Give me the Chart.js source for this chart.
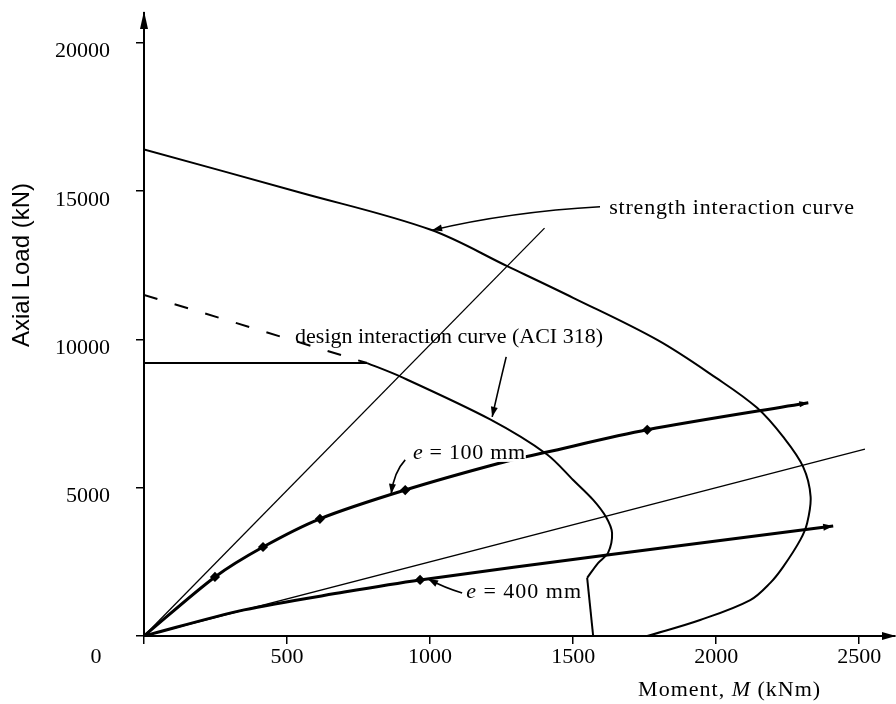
<!DOCTYPE html>
<html>
<head>
<meta charset="utf-8">
<title>Axial load - moment interaction</title>
<script src="https://cdn.jsdelivr.net/npm/chart.js@4.4.1/dist/chart.umd.min.js"></script>
<style>
  html, body { margin: 0; padding: 0; background: #fff; }
</style>
</head>
<body>
<canvas id="chart" width="896" height="704"></canvas>
<script>
// axis ticks
const xTicks = [0, 500, 1000, 1500, 2000, 2500];
const yTicks = [0, 5000, 10000, 15000, 20000];

// strength interaction curve (M in kNm, P in kN)
const strengthM = [0, 545, 1000, 1273, 1500, 1794, 2000, 2143, 2235, 2304, 2330, 2318, 2294, 2234, 2190, 2119, 1944, 1759];
const strengthP = [16400, 14950, 13700, 12450, 11400, 9980, 8700, 7690, 6700, 5700, 4700, 3810, 3240, 2330, 1800, 1210, 540, 0];

// design interaction curve (ACI 318): flat cap, curved body, straight foot
const designM = [0, 780, 895, 1210, 1409, 1500, 1570, 1615, 1636, 1622, 1587, 1549, 1570];
const designP = [9200, 9200, 8750, 7300, 6120, 5260, 4590, 4010, 3470, 2800, 2460, 1960, 0];

// uncapped part of the design curve
const dashM = [0, 780];
const dashP = [11500, 9200];

// first-order load lines P = M / e
const line100M = [0, 1400];
const line100P = [0, 13750];
const line400M = [0, 2520];
const line400P = [0, 6300];

// second-order load paths
const e100M = [0, 248, 416, 615, 913, 1245, 1409, 1759, 2322];
const e100P = [0, 1990, 3000, 3950, 4920, 5830, 6200, 6950, 7860];
const e100Marked = [1, 2, 3, 4, 7];
const e400M = [0, 350, 700, 965, 1619, 2409];
const e400P = [0, 880, 1480, 1890, 2730, 3710];
const e400Marked = [3];

const serif = 'Liberation Serif';

function series(m, p, opts) {
    return Object.assign({
        data: m.map((x, i) => ({ x: x, y: p[i] })),
        showLine: true,
        borderColor: '#000',
        backgroundColor: '#000',
        pointRadius: 0,
        fill: false
    }, opts);
}

// text labels and their leader arrows, in data units
const notes = [
    { parts: [['strength interaction curve', false]], m: 1626, p: 14435, spacing: 0.8 },
    { parts: [['design interaction curve (ACI 318)', false]], m: 528, p: 10084, spacing: 0 },
    { parts: [['e', true], [' = 100 mm', false]], m: 940, p: 6172, spacing: 0.7, knockout: true },
    { parts: [['e', true], [' = 400 mm', false]], m: 1126, p: 1484, spacing: 1 }
];
const leaders = [
    { from: [1594, 14469], ctrl: [1280, 14300], to: [1007, 13680] },
    { from: [1266, 9410], ctrl: [1238, 8297], to: [1217, 7386] },
    { from: [913, 5936], ctrl: [874, 5531], to: [864, 4790] },
    { from: [1112, 1450], ctrl: [1052, 1619], to: [993, 1920] }
];

function arrowHead(ctx, x0, y0, x1, y1, len, half) {
    const a = Math.atan2(y1 - y0, x1 - x0);
    ctx.beginPath();
    ctx.moveTo(x1, y1);
    ctx.lineTo(x1 - len * Math.cos(a) + half * Math.sin(a), y1 - len * Math.sin(a) - half * Math.cos(a));
    ctx.lineTo(x1 - len * Math.cos(a) - half * Math.sin(a), y1 - len * Math.sin(a) + half * Math.cos(a));
    ctx.closePath();
    ctx.fill();
}

function drawParts(ctx, parts, x, y, size, spacing, knockout) {
    ctx.textBaseline = 'middle';
    ctx.textAlign = 'left';
    ctx.letterSpacing = (spacing || 0) + 'px';
    const fontOf = italic => (italic ? 'italic ' : '') + size + 'px "' + serif + '"';
    if (knockout) {
        let w = 0;
        parts.forEach(([txt, italic]) => { ctx.font = fontOf(italic); w += ctx.measureText(txt).width; });
        ctx.save();
        ctx.fillStyle = '#fff';
        ctx.fillRect(x - 2, y - 9, w + 2, 18);
        ctx.restore();
    }
    parts.forEach(([txt, italic]) => {
        ctx.font = fontOf(italic);
        ctx.fillText(txt, x, y);
        x += ctx.measureText(txt).width;
    });
    ctx.letterSpacing = '0px';
}

const extras = {
    id: 'extras',
    afterDraw(chart) {
        const ctx = chart.ctx;
        const xs = chart.scales.x, ys = chart.scales.y;
        const area = chart.chartArea;
        const px = v => xs.getPixelForValue(v), py = v => ys.getPixelForValue(v);
        ctx.save();
        ctx.fillStyle = '#000';
        ctx.strokeStyle = '#000';

        // axis arrows
        arrowHead(ctx, area.left, area.top + 20, area.left, area.top - 2, 18, 4);
        arrowHead(ctx, area.right - 20, area.bottom, area.right + 1, area.bottom, 14, 4);

        // arrow tips at the end of the load paths
        const n1 = e100M.length - 1, n4 = e400M.length - 1;
        arrowHead(ctx, px(e100M[n1 - 1]), py(e100P[n1 - 1]), px(e100M[n1]), py(e100P[n1]), 9, 3);
        arrowHead(ctx, px(e400M[n4 - 1]), py(e400P[n4 - 1]), px(e400M[n4]), py(e400P[n4]), 10, 3.5);

        // shared origin label
        ctx.font = '22px "' + serif + '"';
        ctx.textAlign = 'center';
        ctx.textBaseline = 'middle';
        ctx.fillText('0', area.left - 48, area.bottom + 21);

        // axis titles
        drawParts(ctx, [['Moment, ', false], ['M', true], [' (kNm)', false]], px(1727), area.bottom + 54, 22, 1);
        ctx.save();
        ctx.translate(area.left - 122, area.bottom - 371);
        ctx.rotate(-Math.PI / 2);
        ctx.font = '24px "Liberation Sans"';
        ctx.textAlign = 'center';
        ctx.textBaseline = 'middle';
        ctx.fillText('Axial Load (kN)', 0, 0);
        ctx.restore();

        // curve labels
        notes.forEach(n => drawParts(ctx, n.parts, px(n.m), py(n.p), 22, n.spacing, n.knockout));

        // leaders
        ctx.lineWidth = 1.6;
        leaders.forEach(l => {
            const x0 = px(l.from[0]), y0 = py(l.from[1]);
            const cx = px(l.ctrl[0]), cy = py(l.ctrl[1]);
            const x1 = px(l.to[0]), y1 = py(l.to[1]);
            ctx.beginPath();
            ctx.moveTo(x0, y0);
            ctx.quadraticCurveTo(cx, cy, x1, y1);
            ctx.stroke();
            arrowHead(ctx, cx, cy, x1, y1, 10, 3.5);
        });
        ctx.restore();
    }
};

const footAt = designM.length - 2;

new Chart(document.getElementById('chart'), {
    type: 'scatter',
    data: {
        datasets: [
            series(strengthM, strengthP, { borderWidth: 2, tension: 0.35 }),
            series(designM.slice(0, 2), designP.slice(0, 2), { borderWidth: 2 }),
            series(designM.slice(1, footAt + 1), designP.slice(1, footAt + 1), { borderWidth: 2, tension: 0.3 }),
            series(designM.slice(footAt), designP.slice(footAt), { borderWidth: 2 }),
            series(dashM, dashP, { borderWidth: 2, borderDash: [14, 18] }),
            series(line100M, line100P, { borderWidth: 1.3 }),
            series(line400M, line400P, { borderWidth: 1.3 }),
            series(e100M, e100P, {
                borderWidth: 3, tension: 0.3, pointStyle: 'rectRot',
                pointRadius: e100M.map((_, i) => e100Marked.includes(i) ? 3 : 0)
            }),
            series(e400M, e400P, {
                borderWidth: 3, tension: 0.3, pointStyle: 'rectRot',
                pointRadius: e400M.map((_, i) => e400Marked.includes(i) ? 3 : 0)
            })
        ]
    },
    options: {
        responsive: false,
        animation: false,
        devicePixelRatio: 1,
        layout: { padding: { top: 13, right: 1, left: 0, bottom: 0 } },
        plugins: { legend: { display: false }, tooltip: { enabled: false } },
        scales: {
            x: {
                type: 'linear',
                min: 0,
                max: 2625,
                afterBuildTicks: s => { s.ticks = xTicks.map(v => ({ value: v })); },
                afterFit: s => { s.height = 68; s.paddingLeft = 0; s.paddingRight = 0; },
                grid: { drawOnChartArea: false, drawTicks: true, tickLength: 8, color: '#000', lineWidth: 1.5 },
                border: { display: true, color: '#000', width: 2 },
                ticks: {
                    color: '#000',
                    font: { family: serif, size: 22 },
                    padding: 0,
                    maxRotation: 0,
                    autoSkip: false,
                    callback: v => v === 0 ? '' : String(v)
                }
            },
            y: {
                type: 'linear',
                min: 0,
                max: 21000,
                afterBuildTicks: s => { s.ticks = yTicks.map(v => ({ value: v })); },
                afterFit: s => { s.width = 144; s.paddingTop = 0; s.paddingBottom = 0; },
                grid: { drawOnChartArea: false, drawTicks: true, tickLength: 8, color: '#000', lineWidth: 1.5 },
                border: { display: true, color: '#000', width: 2 },
                ticks: {
                    color: '#000',
                    font: { family: serif, size: 22 },
                    padding: 26,
                    labelOffset: 9,
                    autoSkip: false,
                    callback: v => v === 0 ? '' : String(v)
                }
            }
        }
    },
    plugins: [extras]
});
</script>
</body>
</html>
